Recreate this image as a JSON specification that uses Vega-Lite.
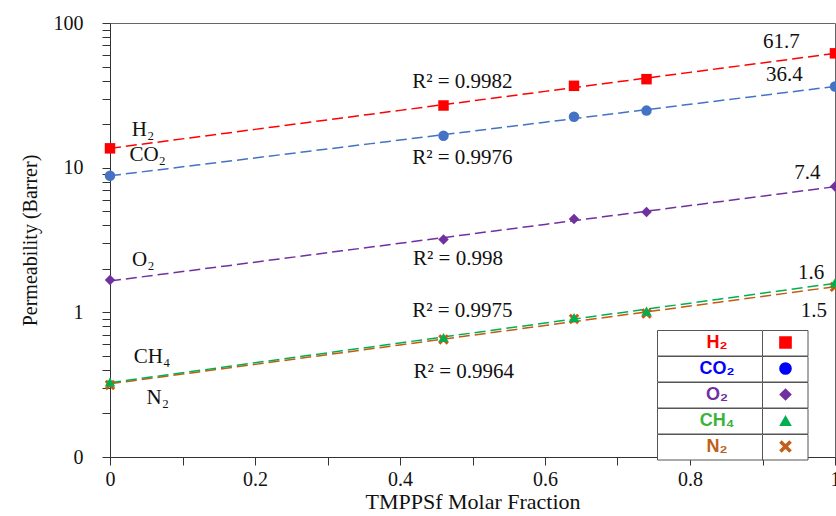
{
  "$schema": "https://vega.github.io/schema/vega-lite/v6.json",
  "width": 725,
  "height": 434,
  "autosize": {"type": "none"},
  "padding": {"left": 110, "top": 23, "right": 1, "bottom": 59},
  "background": "white",
  "config": {
    "view": {"stroke": "#666", "strokeWidth": 1},
    "axis": {
      "grid": false,
      "domainColor": "#333",
      "tickColor": "#333",
      "labelColor": "#111",
      "titleColor": "#111",
      "labelFont": "Liberation Serif",
      "labelFontSize": 20,
      "titleFont": "Liberation Serif",
      "titleFontSize": 20,
      "titleFontWeight": "normal",
      "tickSize": 8
    }
  },
  "datasets": {
    "perm": [
      {"gas": "H2", "label": "H₂", "x": 0, "y": 13.6},
      {"gas": "H2", "label": "H₂", "x": 0.46, "y": 26.9},
      {"gas": "H2", "label": "H₂", "x": 0.64, "y": 36.8},
      {"gas": "H2", "label": "H₂", "x": 0.74, "y": 40.9},
      {"gas": "H2", "label": "H₂", "x": 1, "y": 61.7},
      {"gas": "CO2", "label": "CO₂", "x": 0, "y": 8.8},
      {"gas": "CO2", "label": "CO₂", "x": 0.46, "y": 16.6},
      {"gas": "CO2", "label": "CO₂", "x": 0.64, "y": 22.5},
      {"gas": "CO2", "label": "CO₂", "x": 0.74, "y": 24.8},
      {"gas": "CO2", "label": "CO₂", "x": 1, "y": 36.4},
      {"gas": "O2", "label": "O₂", "x": 0, "y": 1.67},
      {"gas": "O2", "label": "O₂", "x": 0.46, "y": 3.19},
      {"gas": "O2", "label": "O₂", "x": 0.64, "y": 4.42},
      {"gas": "O2", "label": "O₂", "x": 0.74, "y": 4.94},
      {"gas": "O2", "label": "O₂", "x": 1, "y": 7.4},
      {"gas": "N2", "label": "N₂", "x": 0, "y": 0.315},
      {"gas": "N2", "label": "N₂", "x": 0.46, "y": 0.65},
      {"gas": "N2", "label": "N₂", "x": 0.64, "y": 0.9},
      {"gas": "N2", "label": "N₂", "x": 0.74, "y": 0.98},
      {"gas": "N2", "label": "N₂", "x": 1, "y": 1.5},
      {"gas": "CH4", "label": "CH₄", "x": 0, "y": 0.33},
      {"gas": "CH4", "label": "CH₄", "x": 0.46, "y": 0.67},
      {"gas": "CH4", "label": "CH₄", "x": 0.64, "y": 0.92},
      {"gas": "CH4", "label": "CH₄", "x": 0.74, "y": 1.02},
      {"gas": "CH4", "label": "CH₄", "x": 1, "y": 1.6}
    ],
    "notes": [
      {"x": 0.0455, "y": 18.2, "text": "H₂"},
      {"x": 0.052, "y": 12.2, "text": "CO₂"},
      {"x": 0.046, "y": 2.3, "text": "O₂"},
      {"x": 0.058, "y": 0.49, "text": "CH₄"},
      {"x": 0.066, "y": 0.255, "text": "N₂"},
      {"x": 0.486, "y": 39.2, "text": "R² = 0.9982"},
      {"x": 0.486, "y": 11.7, "text": "R² = 0.9976"},
      {"x": 0.48, "y": 2.33, "text": "R² = 0.998"},
      {"x": 0.486, "y": 1.02, "text": "R² = 0.9975"},
      {"x": 0.488, "y": 0.387, "text": "R² = 0.9964"},
      {"x": 0.926, "y": 74.1, "text": "61.7"},
      {"x": 0.93, "y": 43.7, "text": "36.4"},
      {"x": 0.962, "y": 9.18, "text": "7.4"},
      {"x": 0.967, "y": 1.87, "text": "1.6"},
      {"x": 0.971, "y": 1.02, "text": "1.5"}
    ]
  },
  "layer": [
    {
      "data": {"name": "perm"},
      "transform": [
        {"regression": "y", "on": "x", "groupby": ["gas", "label"], "method": "exp", "extent": [0, 1]}
      ],
      "mark": {"type": "line", "strokeDash": [11, 5], "strokeWidth": 1.5},
      "encoding": {
        "x": {
          "field": "x",
          "type": "quantitative",
          "scale": {"domain": [0, 1], "nice": false},
          "axis": {
            "title": "TMPPSf Molar Fraction",
            "titleFontSize": 22,
            "values": [0, 0.1, 0.2, 0.3, 0.4, 0.5, 0.6, 0.7, 0.8, 0.9, 1],
            "labelExpr": "round(datum.value*10) % 2 == 0 ? toString(round(datum.value*10)/10) : ''",
            "labelOverlap": false,
            "labelFlush": false,
            "labelPadding": 4,
            "titlePadding": 2
          }
        },
        "y": {
          "field": "y",
          "type": "quantitative",
          "scale": {"type": "log", "domain": [0.1, 100], "nice": false},
          "axis": {
            "title": "Permeability (Barrer)",
            "values": [0.1, 0.2, 0.3, 0.4, 0.5, 0.6, 0.7, 0.8, 0.9, 1, 2, 3, 4, 5, 6, 7, 8, 9, 10, 20, 30, 40, 50, 60, 70, 80, 90, 100],
            "labelExpr": "abs(log(datum.value)/LN10 - round(log(datum.value)/LN10)) < 0.000001 ? format(datum.value, '.0f') : ''",
            "labelOverlap": false,
            "labelPadding": 19,
            "titleX": -70
          }
        },
        "color": {
          "field": "label",
          "type": "nominal",
          "sort": ["H₂", "CO₂", "O₂", "CH₄", "N₂"],
          "scale": {"range": ["#FF0000", "#4472C4", "#7030A0", "#00B050", "#C55A11"]}
        },
        "detail": {"field": "gas"}
      }
    },
    {
      "data": {"name": "perm"},
      "mark": {"type": "point", "filled": true, "size": 110, "opacity": 1},
      "encoding": {
        "x": {"field": "x", "type": "quantitative"},
        "y": {"field": "y", "type": "quantitative"},
        "color": {
          "field": "label",
          "type": "nominal",
          "sort": ["H₂", "CO₂", "O₂", "CH₄", "N₂"],
          "legend": {
            "orient": "none",
            "legendX": 547,
            "legendY": 307,
            "title": null,
            "padding": 0,
            "rowPadding": -2,
            "clipHeight": 25,
            "fillColor": "white",
            "symbolOpacity": 0,
            "symbolSize": 100,
            "labelFont": "Liberation Sans",
            "labelFontWeight": "bold",
            "labelFontSize": 18,
            "labelAlign": "center",
            "labelBaseline": "middle",
            "labelOffset": 42,
            "encoding": {
              "entries": {"width": {"value": 105}, "stroke": {"value": "#555"}, "strokeWidth": {"value": 1}},
              "labels": {"fill": {"value": {"expr": "['#FF0000','#0000FF','#7030A0','#3BB33B','#C0601A'][datum.index]"}}}
            }
          }
        },
        "shape": {
          "field": "gas",
          "type": "nominal",
          "sort": ["H2", "CO2", "O2", "CH4", "N2"],
          "scale": {
            "range": ["square", "circle", "diamond", "triangle-up", "M-1,-0.6L-0.6,-1L0,-0.4L0.6,-1L1,-0.6L0.4,0L1,0.6L0.6,1L0,0.4L-0.6,1L-1,0.6L-0.4,0Z"]
          },
          "legend": {
            "orient": "none",
            "legendX": 652,
            "legendY": 307,
            "title": null,
            "padding": 0,
            "rowPadding": -2,
            "clipHeight": 25,
            "fillColor": "white",
            "symbolSize": 160,
            "symbolStrokeWidth": 0,
            "symbolOffset": 17,
            "labelExpr": "''",
            "encoding": {
              "entries": {"width": {"value": 45}, "stroke": {"value": "#555"}, "strokeWidth": {"value": 1}},
              "symbols": {"fill": {"value": {"expr": "['#FF0000','#0000FF','#7030A0','#00B050','#C0601A'][datum.index]"}}, "opacity": {"value": 1}}
            }
          }
        }
      }
    },
    {
      "data": {"name": "notes"},
      "mark": {"type": "text", "font": "Liberation Serif", "fontSize": 21, "color": "#111", "baseline": "middle", "align": "center"},
      "encoding": {
        "x": {"field": "x", "type": "quantitative"},
        "y": {"field": "y", "type": "quantitative"},
        "text": {"field": "text"}
      }
    }
  ]
}
